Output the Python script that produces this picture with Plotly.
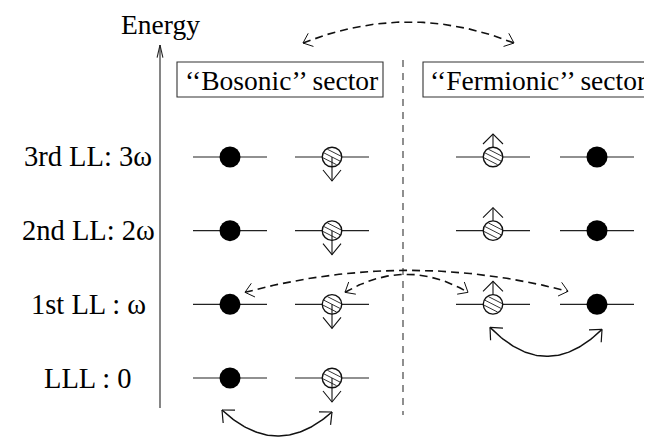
import numpy as np
import plotly.graph_objects as go

# ---------------- data ----------------
level_labels = ["LLL : 0", "1st LL : ω", "2nd LL: 2ω", "3rd LL: 3ω"]
level_energy = [0, 1, 2, 3]
sector_titles = ["‘‘Bosonic’’ sector", "‘‘Fermionic’’ sector"]
boson_levels = [0, 1, 2, 3]      # levels occupied in the bosonic sector
fermion_levels = [1, 2, 3]       # levels occupied in the fermionic sector
axis_title = "Energy"

# ---------------- layout constants ----------------
W, H = 652, 438
OFF = 8               # default page margin of the html body
Y0 = 378.0            # screen px of energy 0
PX = 73.67            # screen px per energy unit
FONT = "Liberation Serif, Times New Roman, serif"
COL = {"b_fill": 230, "b_hatch": 332, "f_hatch": 493, "f_fill": 597}
HALF = 37             # half length of a level line
R = 10                # circle radius (px)


def lvl_px(e):
    return Y0 - e * PX


def to_e(py):
    return (Y0 - py) / PX


def bezier(p0, c, p2, n=80):
    t = np.linspace(0, 1, n)
    x = (1 - t) ** 2 * p0[0] + 2 * (1 - t) * t * c[0] + t ** 2 * p2[0]
    y = (1 - t) ** 2 * p0[1] + 2 * (1 - t) * t * c[1] + t ** 2 * p2[1]
    return list(x), list(y)


def ctrl_for(p0, p2, peak):
    return ((p0[0] + p2[0]) / 2, (4 * peak - p0[1] - p2[1]) / 2)


def head(tip, toward, L=12.5, ang=42):
    d = np.array(toward, float) - np.array(tip, float)
    d /= np.linalg.norm(d)
    out_x, out_y = [], []
    for s in (-1, 1):
        a = np.radians(s * ang)
        rx = d[0] * np.cos(a) - d[1] * np.sin(a)
        ry = d[0] * np.sin(a) + d[1] * np.cos(a)
        out_x += [tip[0] + L * rx, tip[0], None]
        out_y += [tip[1] + L * ry, tip[1], None]
    return out_x, out_y


class Seg:
    def __init__(self):
        self.x, self.y = [], []

    def add(self, xs, ys):
        # xs, ys in screen px
        self.x += list(xs) + [None]
        self.y += [to_e(v) if v is not None else None for v in ys] + [None]


fig = go.Figure()


def line_trace(seg, width=1.2, color="#111", dash="solid"):
    fig.add_trace(go.Scatter(x=seg.x, y=seg.y, mode="lines",
                             line=dict(color=color, width=width, dash=dash),
                             hoverinfo="skip", showlegend=False))


# level lines
lev = Seg()
for e in boson_levels:
    for c in ("b_fill", "b_hatch"):
        lev.add([COL[c] - HALF, COL[c] + HALF], [lvl_px(e)] * 2)
for e in fermion_levels:
    for c in ("f_hatch", "f_fill"):
        lev.add([COL[c] - HALF, COL[c] + HALF], [lvl_px(e)] * 2)
line_trace(lev, 1.1, "#222")

# energy axis
ax = Seg()
ax.add([160, 160], [408, 45])
hx, hy = head((160, 45), (160, 60), L=13, ang=13)
ax.add(hx, hy)
line_trace(ax, 1.1, "#222")

# vertical dashed separator
sep = Seg()
sep.add([403, 403], [60, 415])
line_trace(sep, 1.1, "#333", "7px,6px")

# dashed double arcs
darc = Seg()
dhead = Seg()
arcs = [
    ((303, 43), (514, 43), 22),
    ((COL["b_fill"] + 15, lvl_px(1) - 12), (COL["f_fill"] - 29, lvl_px(1) - 13), lvl_px(1) - 34),
    ((COL["b_hatch"] + 13, lvl_px(1) - 12), (COL["f_hatch"] - 25, lvl_px(1) - 12), lvl_px(1) - 30),
]
for p0, p2, peak in arcs:
    c = ctrl_for(p0, p2, peak)
    bx, by = bezier(p0, c, p2)
    darc.add(bx, by)
    for tip in (p0, p2):
        hx, hy = head(tip, c, L=11, ang=40)
        dhead.add(hx, hy)
line_trace(darc, 1.6, "#111", "8px,5px")
line_trace(dhead, 1.0, "#111")

# solid double arcs
sarc = Seg()
shead = Seg()
sarcs = [
    ((COL["b_fill"] - 8, lvl_px(0) + 32), (COL["b_hatch"], lvl_px(0) + 34), lvl_px(0) + 58),
    ((COL["f_hatch"] - 3, lvl_px(1) + 23), (COL["f_fill"] + 5, lvl_px(1) + 25), lvl_px(1) + 52),
]
for p0, p2, peak in sarcs:
    c = ctrl_for(p0, p2, peak)
    bx, by = bezier(p0, c, p2)
    sarc.add(bx, by)
    for tip in (p0, p2):
        hx, hy = head(tip, c, L=13, ang=42)
        shead.add(hx, hy)
line_trace(sarc, 1.5, "#111")
line_trace(shead, 1.2, "#111")

# particles: filled circles
fx = [COL["b_fill"]] * len(boson_levels) + [COL["f_fill"]] * len(fermion_levels)
fy = list(boson_levels) + list(fermion_levels)
fig.add_trace(go.Scatter(x=fx, y=fy, mode="markers",
                         marker=dict(size=21, color="#000", line=dict(width=0)),
                         hoverinfo="skip", showlegend=False))

# particles: hatched circles
hxs = [COL["b_hatch"]] * len(boson_levels) + [COL["f_hatch"]] * len(fermion_levels)
hys = list(boson_levels) + list(fermion_levels)
fig.add_trace(go.Scatter(x=hxs, y=hys, mode="markers",
                         marker=dict(size=19.5, color="white", line=dict(width=1.4, color="#111")),
                         hoverinfo="skip", showlegend=False))

# hatching + spins
hat = Seg()
spin = Seg()
ang = np.radians(27)
d = np.array([np.cos(ang), np.sin(ang)])
nrm = np.array([-d[1], d[0]])
rin = 9.0
for cx, e, sgn in [(COL["b_hatch"], e, +1) for e in boson_levels] + \
                  [(COL["f_hatch"], e, -1) for e in fermion_levels]:
    cy = lvl_px(e)
    for o in (-4.8, 0.0, 4.8):
        h = np.sqrt(rin ** 2 - o ** 2)
        c0 = np.array([cx, cy]) + o * nrm
        a = c0 - h * d
        b = c0 + h * d
        hat.add([a[0], b[0]], [a[1], b[1]])
    if sgn > 0:
        tip = (cx, cy + 24)
        spin.add([cx, cx], [cy, tip[1]])
        spin.add([cx - 9, cx, cx + 9], [tip[1] - 11, tip[1], tip[1] - 11])
    else:
        tip = (cx, cy - 23)
        spin.add([cx, cx], [cy - R, tip[1]])
        spin.add([cx - 10, cx, cx + 10], [tip[1] + 10, tip[1], tip[1] + 10])
line_trace(hat, 1.0, "#333")
line_trace(spin, 1.1, "#111")

# sector boxes
shapes = []
for x0, x1 in [(177, 383), (423, 650)]:
    shapes.append(dict(type="rect", xref="x", yref="y", x0=x0, x1=x1,
                       y0=to_e(62), y1=to_e(97), line=dict(color="#333", width=1.1),
                       fillcolor="rgba(0,0,0,0)", layer="above"))

annotations = []
for txt, xc in zip(sector_titles, [281, 538]):
    annotations.append(dict(x=xc, y=to_e(80), text=txt, showarrow=False,
                            xanchor="center", yanchor="middle",
                            font=dict(family=FONT, size=27.5, color="#000")))
for txt, e in zip(level_labels, level_energy):
    annotations.append(dict(x=88, y=e, text=txt, showarrow=False,
                            xanchor="center", yanchor="middle",
                            font=dict(family=FONT, size=28.5, color="#000")))
annotations.append(dict(x=160, y=to_e(24), text=axis_title, showarrow=False,
                        xanchor="center", yanchor="middle",
                        font=dict(family=FONT, size=27.5, color="#000")))

# The html body keeps its default 8px margin, so the figure is drawn
# OFF px smaller and its axes start at OFF to keep screen coordinates.
fig.update_layout(
    width=W - OFF, height=H - OFF, margin=dict(l=0, r=0, t=0, b=0),
    paper_bgcolor="white", plot_bgcolor="white",
    xaxis=dict(range=[OFF, W], visible=False, fixedrange=True),
    yaxis=dict(range=[to_e(H), to_e(OFF)], visible=False, fixedrange=True),
    shapes=shapes, annotations=annotations, showlegend=False,
)

fig.write_html("out.html")
